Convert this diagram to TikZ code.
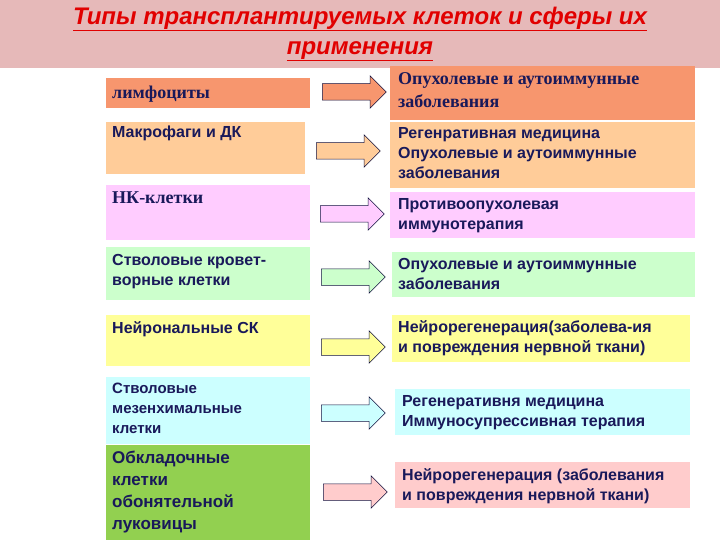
\documentclass[tikz,border=0pt]{standalone}
\usepackage{fontspec}
\setmainfont{Liberation Sans}
\newfontfamily\serifb{Liberation Serif}
\usetikzlibrary{shapes.arrows}
\definecolor{tband}{RGB}{230,185,185}
\definecolor{tred}{RGB}{225,0,0}
\definecolor{navy}{RGB}{25,25,90}
\definecolor{cA}{RGB}{247,150,110}
\definecolor{cB}{RGB}{255,204,153}
\definecolor{cC}{RGB}{255,204,255}
\definecolor{cD}{RGB}{204,255,204}
\definecolor{cE}{RGB}{255,255,153}
\definecolor{cF}{RGB}{204,255,255}
\definecolor{cG}{RGB}{146,208,80}
\definecolor{cH}{RGB}{255,204,204}
\tikzset{
 txt/.style={anchor=north west,align=left,text=navy,font=\bfseries\fontsize{16}{20}\selectfont,inner sep=0pt},
 serift/.style={txt,font=\serifb\bfseries\fontsize{18}{22}\selectfont},
 arr/.style={single arrow,draw=navy!70!black,line width=0.5pt,minimum height=64pt,inner xsep=0pt,inner ysep=8pt,single arrow head extend=8pt,single arrow tip angle=90,anchor=west}
}
\newcommand\bx[5]{\fill[#5] (#1,#2) rectangle (#3,#4);}
\begin{document}
\begin{tikzpicture}[x=1pt,y=-1pt]
\useasboundingbox (0,0) rectangle (720,540);
\fill[white] (0,0) rectangle (720,540);
\fill[tband] (0,0) rectangle (720,68);
\node[text=tred,font=\bfseries\itshape\fontsize{24}{30}\selectfont,align=center] (title) at (360,34) {\underline{Типы трансплантируемых клеток и сферы их}\\\underline{применения}};
% left boxes
\bx{106}{78}{310}{108}{cA}
\bx{106}{122}{305}{174}{cB}
\bx{106}{185}{310}{240}{cC}
\bx{106}{247}{310}{300}{cD}
\bx{106}{315}{310}{366}{cE}
\bx{106}{377}{310}{444}{cF}
\bx{106}{445}{310}{540}{cG}
% right boxes
\bx{390}{66}{695}{120}{cA}
\bx{390}{122}{695}{188}{cB}
\bx{390}{192}{695}{238}{cC}
\bx{392}{252}{695}{297}{cD}
\bx{392}{315}{690}{362}{cE}
\bx{395}{389}{690}{435}{cF}
\bx{395}{462}{690}{508}{cH}
% left texts
\node[serift] (l1) at (112,86) {лимфоциты};
\node[txt] (l2) at (112,126) {Макрофаги и ДК};
\node[serift] (l3) at (112,192) {НК-клетки};
\node[txt] (l4) at (112,254) {Стволовые кровет-\\ворные клетки};
\node[txt] (l5) at (112,321) {Нейрональные СК};
\node[txt,font=\bfseries\fontsize{15}{20}\selectfont] (l6) at (112,383) {Стволовые\\мезенхимальные\\клетки};
\node[txt,font=\bfseries\fontsize{17}{22}\selectfont] (l7) at (112,451) {Обкладочные\\клетки\\обонятельной\\луковицы};
% right texts
\node[serift,font=\serifb\bfseries\fontsize{18}{23}\selectfont] (r1) at (398,72) {Опухолевые и аутоиммунные\\заболевания};
\node[txt] (r2) at (398,127) {Регенративная медицина\\Опухолевые и аутоиммунные\\заболевания};
\node[txt] (r3) at (398,198) {Противоопухолевая\\иммунотерапия};
\node[txt] (r4) at (398,258) {Опухолевые и аутоиммунные\\заболевания};
\node[txt] (r5) at (398,320) {Нейрорегенерация(заболева-ия\\и повреждения нервной ткани)};
\node[txt] (r6) at (402,395) {Регенеративня медицина\\Иммуносупрессивная терапия};
\node[txt] (r7) at (402,468) {Нейрорегенерация (заболевания\\и повреждения нервной ткани)};
% arrows
\node[arr,fill=cA] (a1) at (322,92) {};
\node[arr,fill=cB] (a2) at (316,151) {};
\node[arr,fill=cC] (a3) at (320,214) {};
\node[arr,fill=cD] (a4) at (321,277) {};
\node[arr,fill=cE] (a5) at (321,347) {};
\node[arr,fill=cF] (a6) at (321,413) {};
\node[arr,fill=cH] (a7) at (323,492) {};
\end{tikzpicture}
\end{document}
